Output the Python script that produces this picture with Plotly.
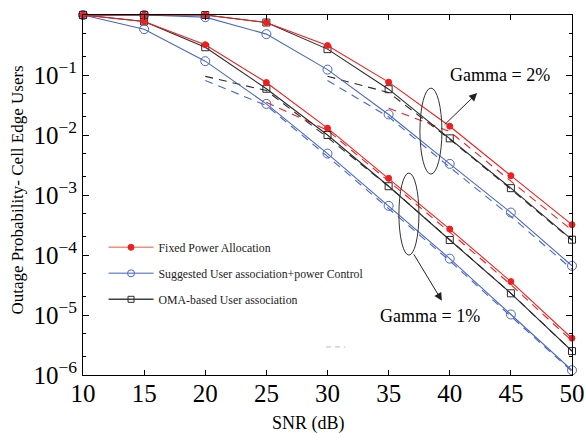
import plotly.graph_objects as go

# ---------------- data ----------------
snr = [10, 15, 20, 25, 30, 35, 40, 45, 50]

# Gamma = 1 %
fixed_g1 = [1.0, 0.78, 0.32, 0.075, 0.013, 0.0019, 0.00027, 3.6e-5, 4.1e-6]
suggested_g1 = [1.0, 0.58, 0.17, 0.033, 0.0049, 0.00066, 8.7e-5, 1.02e-5, 1.2e-6]
oma_g1 = [1.0, 0.78, 0.29, 0.059, 0.010, 0.0014, 0.000178, 2.3e-5, 2.5e-6]

# Gamma = 2 %
fixed_g2 = [1.0, 1.0, 1.0, 0.75, 0.31, 0.076, 0.014, 0.0021, 0.00032]
suggested_g2 = [1.0, 1.0, 0.92, 0.48, 0.123, 0.022, 0.0033, 0.00051, 6.6e-5]
oma_g2 = [1.0, 1.0, 1.0, 0.75, 0.27, 0.058, 0.0088, 0.0013, 0.00018]

# dashed (approximation) curves
snr_d_g1_bk = [20, 25, 30, 35, 40, 45, 50]
oma_d_g1 = [0.095, 0.055, 0.0091, 0.0014, 0.00018, 2.3e-5, 2.5e-6]
snr_d_g1_bl = [20, 25, 30, 35, 40, 45, 50]
suggested_d_g1 = [0.081, 0.031, 0.0044, 0.0006, 8.0e-5, 9.5e-6, 1.15e-6]
snr_d_g1_rd = [25, 30, 35, 40, 45, 50]
fixed_d_g1 = [0.035, 0.012, 0.0017, 0.00024, 3.2e-5, 3.7e-6]

snr_d_g2_bk = [30, 35, 40, 45, 50]
oma_d_g2 = [0.095, 0.051, 0.0085, 0.00125, 0.000175]
snr_d_g2_bl = [30, 35, 40, 45, 50]
suggested_d_g2 = [0.081, 0.020, 0.0029, 0.00044, 5.8e-5]
snr_d_g2_rd = [35, 40, 45, 50]
fixed_d_g2 = [0.028, 0.0114, 0.0017, 0.00026]

legend_names = ["Fixed Power Allocation",
                "Suggested User association+power Control",
                "OMA-based User association"]

x_ticks = [10, 15, 20, 25, 30, 35, 40, 45, 50]
y_ticks = [1e-6, 1e-5, 1e-4, 1e-3, 1e-2, 1e-1, 1]
y_ticktext = ["10<sup>−6</sup>", "10<sup>−5</sup>", "10<sup>−4</sup>", "10<sup>−3</sup>",
              "10<sup>−2</sup>", "10<sup>−1</sup>", "10<sup>0</sup>"]

# ---------------- styling ----------------
FONT = "Liberation Serif, Times New Roman, serif"
RED = "#f01e1e"
BLUE = "#4a66c6"
BLACK = "#2a2a2a"

fig = go.Figure()

def solid(x, y, color, symbol, size):
    fig.add_trace(go.Scatter(
        x=x, y=y, mode="lines+markers", showlegend=False, cliponaxis=False,
        line=dict(color=color, width=1.1),
        marker=dict(symbol=symbol, size=size, color=color,
                    line=dict(color=color, width=1))))

def dashed(x, y, color):
    fig.add_trace(go.Scatter(
        x=x, y=y, mode="lines", showlegend=False,
        line=dict(color=color, width=1.1, dash="8px,6px")))

for xs, ys, c in [(snr_d_g1_bk, oma_d_g1, BLACK), (snr_d_g1_bl, suggested_d_g1, BLUE),
                  (snr_d_g1_rd, fixed_d_g1, RED), (snr_d_g2_bk, oma_d_g2, BLACK),
                  (snr_d_g2_bl, suggested_d_g2, BLUE), (snr_d_g2_rd, fixed_d_g2, RED)]:
    dashed(xs, ys, c)

solid(snr, suggested_g1, BLUE, "circle-open", 9)
solid(snr, suggested_g2, BLUE, "circle-open", 9)
solid(snr, oma_g1, BLACK, "square-open", 7)
solid(snr, oma_g2, BLACK, "square-open", 7)
solid(snr, fixed_g1, RED, "circle", 6)
solid(snr, fixed_g2, RED, "circle", 6)

# legend entries
leg_styles = [("#f0907c", RED, "circle", 6),
              ("#8094dc", BLUE, "circle-open", 7),
              ("#404040", BLACK, "square-open", 6)]
for i, (name, (lc, mc, sym, sz)) in enumerate(zip(legend_names, leg_styles)):
    fig.add_trace(go.Scatter(
        x=[None], y=[None], mode="lines+markers", name=name, legendgroup=f"g{i}",
        line=dict(color=lc, width=1.6),
        marker=dict(symbol=sym, size=sz, color=mc, line=dict(color=mc, width=1))))

axis_common = dict(showline=True, linecolor="black", linewidth=1, mirror="ticks",
                   ticks="inside", tickcolor="black", showgrid=False, zeroline=False,
                   automargin=False,
                   tickfont=dict(family=FONT, size=25, color="black"))

fig.update_layout(
    width=585, height=433,
    margin=dict(l=83, r=13, t=15, b=58),
    paper_bgcolor="white", plot_bgcolor="white",
    font=dict(family=FONT, color="black"),
    xaxis=dict(range=[10, 50], tickvals=x_ticks, ticklen=5, ticklabelstandoff=-4,
               **axis_common),
    yaxis=dict(type="log", range=[-6, 0], tickvals=y_ticks, ticktext=y_ticktext,
               ticklen=6,
               minor=dict(ticks="inside", ticklen=3, tickcolor="black", showgrid=False),
               **axis_common),
    legend=dict(x=0.042, y=0.395, xanchor="left", yanchor="top",
                bgcolor="rgba(255,255,255,0)", borderwidth=0,
                font=dict(family=FONT, size=11.8, color="#222"),
                tracegroupgap=7, itemwidth=45),
)

# axis titles
fig.add_annotation(text="Outage Probability- Cell Edge Users", xref="paper", yref="paper",
                   x=-0.133, y=0.515, xanchor="center", yanchor="middle",
                   textangle=-90, showarrow=False,
                   font=dict(family=FONT, size=17, color="black"))
fig.add_annotation(text="SNR (dB)", xref="paper", yref="paper",
                   x=0.462, y=-0.136, xanchor="center", yanchor="middle", showarrow=False,
                   font=dict(family=FONT, size=18, color="black"))

# ellipses
fig.add_shape(type="circle", xref="x domain", yref="y domain",
              x0=0.689, x1=0.734, y0=0.558, y1=0.797, line=dict(color="#333", width=1))
fig.add_shape(type="circle", xref="x domain", yref="y domain",
              x0=0.646, x1=0.687, y0=0.333, y1=0.561, line=dict(color="#333", width=1))

# arrows
fig.add_annotation(text="", xref="x domain", yref="y domain", x=0.806, y=0.783,
                   ax=-34, ay=33, showarrow=True, arrowhead=2, arrowsize=1.6,
                   arrowwidth=1, arrowcolor="#222")
fig.add_annotation(text="", xref="x domain", yref="y domain", x=0.734, y=0.206,
                   ax=-29, ay=-48, showarrow=True, arrowhead=2, arrowsize=1.6,
                   arrowwidth=1, arrowcolor="#222")

# gamma labels
fig.add_annotation(text="Gamma = 2%", xref="x domain", yref="y domain", x=0.853, y=0.833,
                   xanchor="center", yanchor="middle",
                   showarrow=False, font=dict(family=FONT, size=18, color="black"))
fig.add_annotation(text="Gamma = 1%", xref="x domain", yref="y domain", x=0.710, y=0.164,
                   xanchor="center", yanchor="middle",
                   showarrow=False, font=dict(family=FONT, size=18, color="black"))

# faint stray dashes near bottom
fig.add_shape(type="line", xref="x domain", yref="y domain", x0=0.497, x1=0.536,
              y0=0.078, y1=0.078, line=dict(color="#bbbbbb", width=1, dash="5px,4px"))

fig.write_html("out.html")
